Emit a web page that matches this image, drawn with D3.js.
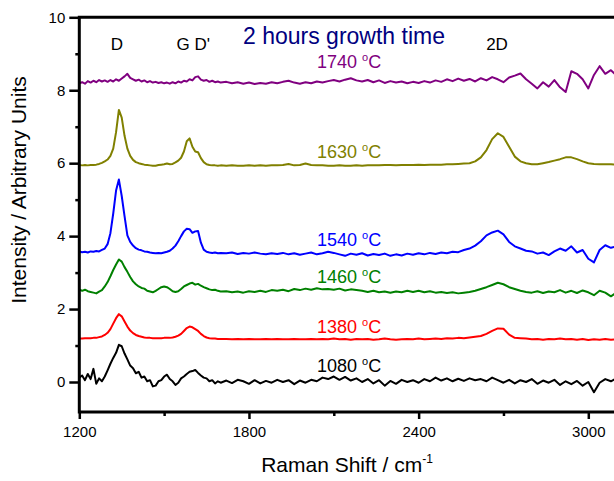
<!DOCTYPE html>
<html>
<head>
<meta charset="utf-8">
<script src="https://cdn.jsdelivr.net/npm/d3@7"></script>
<style>
  html, body { margin: 0; padding: 0; background: #fff; }
  svg { display: block; font-family: "Liberation Sans", Arial, sans-serif; }
</style>
</head>
<body>
<div id="chart"></div>
<script>
// Raman shift grid (cm-1): 10 steps through the D/G region, 20 steps after
const shift = [
  1200,1210,1220,1230,1240,1250,1260,1270,1280,1290,1300,1310,1320,1330,1340,1350,1360,1370,1380,1390,
  1400,1410,1420,1430,1440,1450,1460,1470,1480,1490,1500,1510,1520,1530,1540,1550,1560,1570,1580,1590,
  1600,1610,1620,1630,1640,1650,1660,1670,1680,1690,1700,
  1720,1740,1760,1780,1800,1820,1840,1860,1880,1900,1920,1940,1960,1980,2000,2020,2040,2060,2080,2100,
  2120,2140,2160,2180,2200,2220,2240,2260,2280,2300,2320,2340,2360,2380,2400,2420,2440,2460,2480,2500,
  2520,2540,2560,2580,2600,2620,2640,2660,2680,2700,2720,2740,2760,2780,2800,2820,2840,2860,2880,2900,
  2920,2940,2960,2980,3000,3020,3040,3060,3080,3100
];

const s1740 = [
  8.19,8.22,8.18,8.25,8.21,8.26,8.22,8.28,8.24,8.27,8.23,8.28,8.24,8.30,8.26,8.32,8.38,8.45,8.34,8.30,
  8.26,8.29,8.24,8.27,8.22,8.25,8.21,8.23,8.20,8.22,8.19,8.21,8.18,8.22,8.19,8.24,8.21,8.26,8.24,8.30,
  8.27,8.36,8.38,8.29,8.26,8.28,8.23,8.26,8.22,8.24,8.21,
  8.23,8.19,8.22,8.18,8.21,8.17,8.20,8.18,8.22,8.19,8.23,8.26,8.21,8.18,8.22,8.19,8.24,8.21,8.25,8.28,
  8.24,8.29,8.33,8.27,8.24,8.28,8.22,8.27,8.20,8.25,8.21,8.24,8.19,8.23,8.20,8.25,8.21,8.27,8.23,8.30,
  8.25,8.32,8.26,8.31,8.24,8.33,8.27,8.36,8.30,8.22,8.35,8.40,8.46,8.30,8.18,8.05,8.22,8.10,8.28,8.08,
  7.95,8.52,8.45,8.30,8.05,8.42,8.66,8.45,8.55,8.40
];

const s1630 = [
  5.95,5.94,5.95,5.94,5.95,5.95,5.96,5.98,6.01,6.05,6.10,6.20,6.40,6.85,7.46,7.25,6.75,6.40,6.20,6.09,
  6.03,6.00,5.98,5.96,5.95,5.94,5.93,5.93,5.95,5.96,5.97,5.99,5.97,5.98,6.02,6.07,6.15,6.32,6.60,6.68,
  6.45,6.32,6.30,6.14,6.03,5.97,5.95,5.94,5.94,5.93,5.94,
  5.93,5.94,5.93,5.93,5.94,5.93,5.94,5.93,5.94,5.94,5.95,5.98,5.94,5.95,5.99,5.95,5.94,5.94,5.93,5.93,
  5.94,5.93,5.93,5.94,5.93,5.94,5.94,5.94,5.95,5.95,5.94,5.95,5.95,5.95,5.96,5.95,5.96,5.96,5.96,5.97,
  5.97,5.98,5.99,6.00,6.05,6.16,6.36,6.66,6.82,6.72,6.45,6.18,6.05,6.00,5.97,5.97,6.00,6.03,6.07,6.11,
  6.16,6.16,6.11,6.05,6.00,5.98,5.97,5.97,5.97,5.96
];

const s1540 = [
  3.58,3.56,3.57,3.55,3.58,3.57,3.59,3.58,3.62,3.66,3.78,4.08,4.62,5.25,5.55,5.10,4.55,4.02,3.84,3.74,
  3.67,3.63,3.61,3.58,3.57,3.55,3.54,3.53,3.54,3.53,3.55,3.57,3.60,3.66,3.74,3.86,4.00,4.13,4.20,4.19,
  4.09,4.13,4.14,3.82,3.63,3.57,3.55,3.54,3.55,3.53,3.54,
  3.53,3.55,3.51,3.54,3.52,3.55,3.52,3.50,3.53,3.51,3.54,3.50,3.53,3.49,3.52,3.55,3.50,3.53,3.57,3.54,
  3.50,3.46,3.52,3.49,3.53,3.47,3.51,3.48,3.52,3.46,3.50,3.47,3.52,3.49,3.53,3.50,3.54,3.51,3.55,3.53,
  3.57,3.56,3.62,3.66,3.74,3.86,4.02,4.10,4.15,4.05,3.84,3.72,3.66,3.60,3.58,3.52,3.55,3.48,3.58,3.66,
  3.60,3.72,3.55,3.62,3.38,3.28,3.62,3.75,3.68,3.72
];

const s1460 = [
  2.54,2.50,2.53,2.49,2.47,2.45,2.43,2.48,2.52,2.62,2.74,2.90,3.07,3.22,3.36,3.30,3.15,3.02,2.88,2.76,
  2.68,2.62,2.58,2.56,2.50,2.48,2.46,2.50,2.55,2.60,2.62,2.60,2.55,2.49,2.47,2.49,2.55,2.62,2.66,2.70,
  2.72,2.67,2.69,2.64,2.60,2.57,2.54,2.52,2.53,2.50,2.48,
  2.49,2.46,2.48,2.45,2.49,2.47,2.50,2.47,2.52,2.50,2.53,2.49,2.55,2.52,2.56,2.53,2.57,2.54,2.55,2.53,
  2.56,2.51,2.54,2.52,2.50,2.47,2.50,2.46,2.48,2.45,2.48,2.46,2.50,2.47,2.50,2.46,2.49,2.45,2.47,2.44,
  2.46,2.43,2.45,2.47,2.50,2.55,2.60,2.66,2.72,2.68,2.60,2.55,2.50,2.47,2.45,2.49,2.44,2.48,2.46,2.52,
  2.45,2.50,2.44,2.51,2.46,2.38,2.50,2.45,2.35,2.45
];

const s1380 = [
  1.19,1.19,1.20,1.20,1.20,1.21,1.21,1.23,1.25,1.29,1.35,1.45,1.60,1.75,1.86,1.80,1.66,1.52,1.41,1.34,
  1.29,1.26,1.24,1.22,1.21,1.21,1.20,1.20,1.20,1.20,1.21,1.21,1.21,1.22,1.24,1.27,1.32,1.40,1.48,1.52,
  1.50,1.45,1.40,1.32,1.26,1.22,1.20,1.19,1.19,1.18,1.18,
  1.18,1.17,1.18,1.17,1.18,1.17,1.17,1.18,1.17,1.18,1.17,1.17,1.18,1.17,1.17,1.18,1.17,1.18,1.17,1.19,
  1.17,1.18,1.16,1.18,1.17,1.18,1.16,1.17,1.19,1.17,1.16,1.17,1.18,1.17,1.19,1.17,1.18,1.19,1.18,1.20,
  1.19,1.21,1.20,1.22,1.24,1.26,1.32,1.40,1.47,1.46,1.30,1.21,1.20,1.19,1.17,1.18,1.16,1.18,1.17,1.19,
  1.17,1.18,1.16,1.18,1.15,1.17,1.16,1.18,1.16,1.17
];

const s1080 = [
  0.12,0.18,0.05,0.22,0.08,0.36,-0.05,0.10,0.02,0.15,0.32,0.50,0.66,0.80,1.02,0.98,0.78,0.62,0.45,0.38,
  0.24,0.28,0.12,0.15,0.02,0.05,-0.12,-0.10,0.02,0.05,0.15,0.20,0.08,0.02,-0.08,-0.02,0.10,0.15,0.22,0.28,
  0.30,0.33,0.25,0.18,0.12,0.10,0.02,0.05,-0.04,0.02,-0.02,
  0.04,-0.03,0.06,0.02,-0.05,0.05,-0.04,0.03,-0.02,0.06,0.00,0.05,-0.06,0.04,-0.02,0.06,0.02,0.12,0.08,0.15,
  0.06,0.14,0.04,0.10,0.00,0.08,-0.04,0.05,-0.10,0.03,-0.05,0.06,0.00,0.05,-0.02,0.08,0.02,0.12,0.04,0.10,
  0.02,0.09,0.03,0.10,0.05,0.08,0.02,0.12,0.05,-0.02,0.06,-0.04,0.05,0.00,0.08,-0.05,0.04,-0.02,0.06,-0.08,
  0.02,-0.06,0.03,-0.10,0.00,-0.28,-0.02,0.08,0.02,0.10
];

const seriesNames = ["1740", "1630", "1540", "1460", "1380", "1080"];
const seriesValues = [s1740, s1630, s1540, s1460, s1380, s1080];
const seriesColors = ["#800080", "#808000", "#0000ff", "#008000", "#ff0000", "#000000"];
const labelY = [8.61, 6.14, 3.74, 2.71, 1.35, 0.28]; // baseline of each temperature label (data units)

const peakNames = ["D", "G D'", "2D"];

const yMajor = [0, 2, 4, 6, 8, 10];
const yMinor = [1, 3, 5, 7, 9];
const xMajor = [1200, 1800, 2400, 3000];
const xMinor = [1500, 2100, 2700];

const width = 614, height = 481;
const plot = { left: 79.3, top: 17.3, right: 640, bottom: 412 };

const x = d3.scaleLinear().domain([1200, 3000]).range([79.3, 588.3]);
const y = d3.scaleLinear().domain([0, 10]).range([382, 17.3]);

const svg = d3.select("#chart").append("svg")
  .attr("width", width)
  .attr("height", height);

svg.append("clipPath").attr("id", "clip")
  .append("rect")
  .attr("x", plot.left).attr("y", plot.top)
  .attr("width", plot.right - plot.left).attr("height", plot.bottom - plot.top);

// spectra
const line = d3.line()
  .x((d, i) => x(shift[i]))
  .y(d => y(d));

const lines = svg.append("g").attr("clip-path", "url(#clip)");
seriesValues.forEach((vals, k) => {
  lines.append("path")
    .datum(vals)
    .attr("fill", "none")
    .attr("stroke", seriesColors[k])
    .attr("stroke-width", 2)
    .attr("stroke-linejoin", "round")
    .attr("d", line);
});

// axes
svg.append("g")
  .attr("transform", `translate(${plot.left},0)`)
  .call(d3.axisLeft(y).tickValues(yMajor).tickSize(10).tickPadding(4).tickSizeOuter(0));
svg.append("g")
  .attr("transform", `translate(${plot.left},0)`)
  .call(d3.axisLeft(y).tickValues(yMinor).tickSize(4).tickFormat(""));

svg.append("g")
  .attr("transform", `translate(0,${plot.bottom})`)
  .call(d3.axisBottom(x).tickValues(xMajor).tickSize(7).tickPadding(7).tickSizeOuter(0).tickFormat(d3.format("d")));
svg.append("g")
  .attr("transform", `translate(0,${plot.bottom})`)
  .call(d3.axisBottom(x).tickValues(xMinor).tickSize(4).tickFormat(""));

svg.selectAll(".domain").remove();
svg.selectAll(".tick line").attr("stroke", "#000").attr("stroke-width", 2.5);
svg.selectAll(".tick text")
  .attr("fill", "#000")
  .style("font-size", "15px")
  .style("font-family", "'Liberation Sans', Arial, sans-serif");

// frame (left, bottom, top)
svg.append("path")
  .attr("fill", "none")
  .attr("stroke", "#000")
  .attr("stroke-width", 3)
  .attr("d", `M${plot.right},${plot.top} L${plot.left},${plot.top} L${plot.left},${plot.bottom} L${plot.right},${plot.bottom}`);

// axis titles
const xt = svg.append("text")
  .attr("x", 347).attr("y", 472)
  .attr("text-anchor", "middle")
  .style("font-size", "21px");
xt.append("tspan").text("Raman Shift / cm");
xt.append("tspan").attr("dy", -9).style("font-size", "12px").text("-1");

svg.append("text")
  .attr("transform", "translate(26,190) rotate(-90)")
  .attr("text-anchor", "middle")
  .style("font-size", "21px")
  .text("Intensity / Arbitrary Units");

// title
svg.append("text")
  .attr("x", 344).attr("y", 44)
  .attr("text-anchor", "middle")
  .attr("fill", "#000080")
  .style("font-size", "23px")
  .text("2 hours growth time");

// peak labels
const peakX = [117, 176.5, 497];
const peakAnchor = ["middle", "start", "middle"];
peakNames.forEach((p, i) => {
  svg.append("text")
    .attr("x", peakX[i]).attr("y", 50)
    .attr("text-anchor", peakAnchor[i])
    .style("font-size", "17px")
    .text(p);
});

// temperature labels
seriesNames.forEach((n, k) => {
  const t = svg.append("text")
    .attr("x", 317).attr("y", y(labelY[k]))
    .attr("fill", seriesColors[k])
    .style("font-size", "18px");
  t.append("tspan").text(n + " ");
  t.append("tspan").attr("dy", -7).style("font-size", "11px").text("o");
  t.append("tspan").attr("dy", 7).text("C");
});
</script>
</body>
</html>
